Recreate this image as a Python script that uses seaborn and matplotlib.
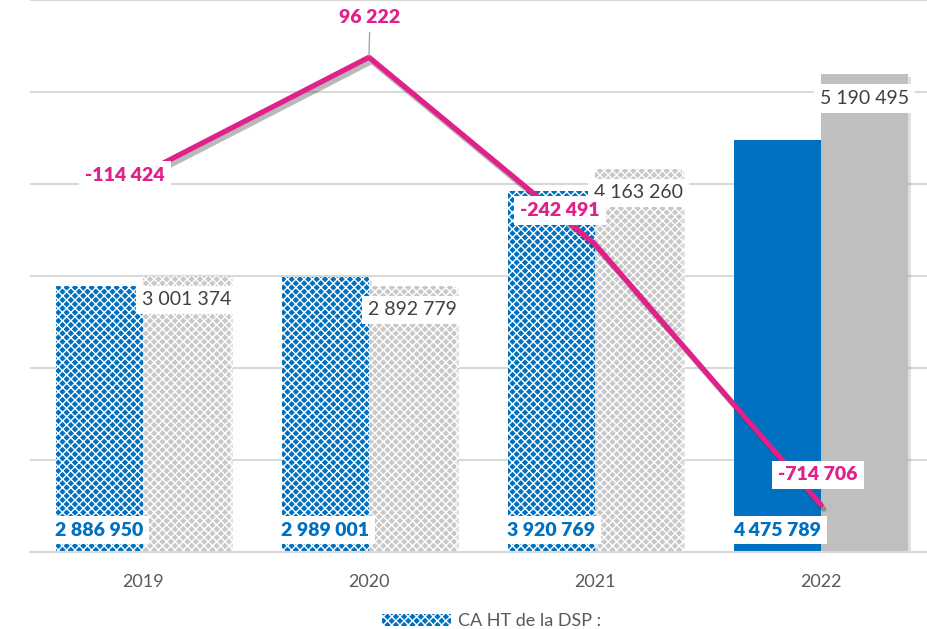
import numpy as np
import pandas as pd
import matplotlib
matplotlib.use("Agg")
import matplotlib.pyplot as plt
import matplotlib.patheffects as pe
from matplotlib.patches import Patch
import seaborn as sns

# --- data
years = ["2019", "2020", "2021", "2022"]
ca_ht = [2886950, 2989001, 3920769, 4475789]
charges = [3001374, 2892779, 4163260, 5190495]
resultat = [-114424, 96222, -242491, -714706]
ca_labels = ["2 886 950", "2 989 001", "3 920 769", "4 475 789"]
charges_labels = ["3 001 374", "2 892 779", "4 163 260", "5 190 495"]
resultat_labels = ["-114 424", "96 222", "-242 491", "-714 706"]

BLUE = "#0070C0"
GREY = "#BFBFBF"
PINK = "#E0218A"
TXT = "#404040"

sns.set_theme(style="white")
plt.rcParams["font.family"] = ["Lato", "DejaVu Sans"]
plt.rcParams["hatch.linewidth"] = 1.0

df = pd.DataFrame({
    "annee": years * 2,
    "valeur": ca_ht + charges,
    "serie": ["CA"] * 4 + ["Charges"] * 4,
})

fig = plt.figure(figsize=(9.28, 6.29), dpi=100)
ax = fig.add_axes([30 / 928, 1 - 552 / 629, 904 / 928, 552 / 629])

sns.barplot(data=df, x="annee", y="valeur", hue="serie", palette=[BLUE, GREY],
            saturation=1, width=0.77, gap=0, dodge=True, legend=False, ax=ax, zorder=2)

# hatch the first three years, solid for the last one
n = len(years)
bars = ax.patches[:2 * n]
for i, b in enumerate(bars):
    year_idx = i % n
    b.set_linewidth(0)
    if year_idx < n - 1:
        b.set_hatch("xxxx")
        b.set_edgecolor("white")
        if i >= n:
            b.set_facecolor("#C8C8C8")
    b.set_path_effects([pe.SimplePatchShadow(offset=(2, -2), alpha=0.25, shadow_rgbFace="#808080"),
                        pe.Normal()])

ax.set_ylim(0, 6000000)
ax.set_xlim(-0.5, n - 0.5)
ax.set_yticks(np.arange(0, 6000001, 1000000))
ax.yaxis.grid(True, color="#D9D9D9", lw=1.5, zorder=0)
ax.set_axisbelow(True)
ax.set_yticklabels([])
ax.tick_params(axis="y", length=0)
ax.tick_params(axis="x", length=0, pad=16, labelsize=13, labelcolor="#595959")
ax.set_xlabel("")
ax.set_ylabel("")
for s in ["top", "right", "left"]:
    ax.spines[s].set_visible(False)
ax.spines["bottom"].set_color("#D9D9D9")
ax.spines["bottom"].set_linewidth(1.5)

box = dict(boxstyle="square,pad=0.3", fc="white", ec="none")
x = np.arange(n)
off = 0.77 / 4
for i in range(n):
    ax.annotate(ca_labels[i], xy=(x[i] - off, 0), xytext=(0, 22), textcoords="offset pixels",
                ha="center", va="center", fontsize=14, fontweight="heavy", color=BLUE,
                bbox=box, zorder=5)
    ax.annotate(charges_labels[i], xy=(x[i] + off, charges[i]), xytext=(0, -24),
                textcoords="offset pixels", ha="center", va="center", fontsize=14,
                color=TXT, bbox=box, zorder=5)

# result line on a hidden second axis
ax2 = ax.twinx()
ax2.set_ylim(-800000, 200000)
ax2.axis("off")
sns.lineplot(x=x, y=resultat, color=PINK, lw=3.8, ax=ax2, zorder=3,
             path_effects=[pe.SimpleLineShadow(offset=(2, -3), alpha=0.3), pe.Normal()])

label_offsets = [(-18, -2), (1, 40), (-35, 34), (-3, 30)]
for i in range(n):
    arrow = None
    if i == 1:
        arrow = dict(arrowstyle="-", color="#A6A6A6", lw=1, shrinkA=0, shrinkB=1)
    ax2.annotate(resultat_labels[i], xy=(x[i], resultat[i]), xytext=label_offsets[i],
                 textcoords="offset pixels", ha="center", va="center", fontsize=14,
                 fontweight="heavy", color=PINK, bbox=box, zorder=6, arrowprops=arrow)

handle = Patch(facecolor=BLUE, edgecolor="white", hatch="xxxx", lw=0)
fig.legend([handle], ["CA HT de la DSP :"], loc="center", bbox_to_anchor=(0.53, 0.012),
           frameon=False, fontsize=13, labelcolor="#595959", handlelength=3.8,
           handleheight=0.7, handletextpad=0.4)

fig.savefig("out.png", dpi=100)
